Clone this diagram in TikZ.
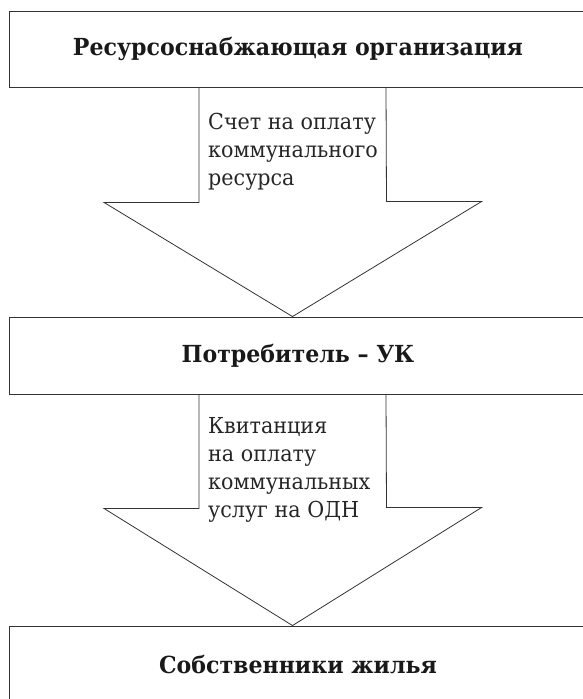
\documentclass[tikz,border=0pt]{standalone}
\usepackage{fontspec}
\setmainfont[FakeStretch=0.94]{DejaVu Serif}
\usetikzlibrary{calc}
\tikzset{
  box/.style={draw=black!80, line width=0.9pt, minimum width=578pt, inner sep=0pt, font=\bfseries\fontsize{23.5}{28}\selectfont, text=black!90},
  blockarrow/.style={draw=black!80, line width=0.8pt, line join=miter},
  label/.style={anchor=north west, inner sep=0pt, align=left, font=\fontsize{22}{28}\selectfont, text=black!85}
}
\begin{document}
\begin{tikzpicture}[x=1pt,y=-1pt]
\useasboundingbox (0,0) rectangle (583,699);
\clip (0,0) rectangle (583,699);
% boxes
\node[box, minimum height=76pt] (b1) at (298,49) {Ресурсоснабжающая организация};
\node[box, minimum height=77pt] (b2) at (298,355.5) {Потребитель – УК};
\node[box, minimum height=77pt] (b3) at (298,664.5) {Собственники жилья};
\coordinate (axis) at (292.5,0);
% block arrow 1
\draw[blockarrow] ($(axis |- b1.south)+(-93.5,0)$) -- ++(0,115) -- ++(-95,0)
  -- (axis |- b2.north) -- ++(189,-115) -- ++(-95,0) -- ($(axis |- b1.south)+(93.5,0)$);
% block arrow 2
\draw[blockarrow] ($(axis |- b2.south)+(-93.5,0)$) -- ++(0,114) -- ++(-95,0)
  -- (axis |- b3.north) -- ++(189,-118) -- ++(-95,0) -- ($(axis |- b2.south)+(93.5,0)$);
% labels
\node[label] (l1) at (208,113) {Счет на оплату\\коммунального\\ресурса};
\node[label] (l2) at (208,417) {Квитанция\\на оплату\\коммунальных\\услуг на ОДН};
\end{tikzpicture}
\end{document}
